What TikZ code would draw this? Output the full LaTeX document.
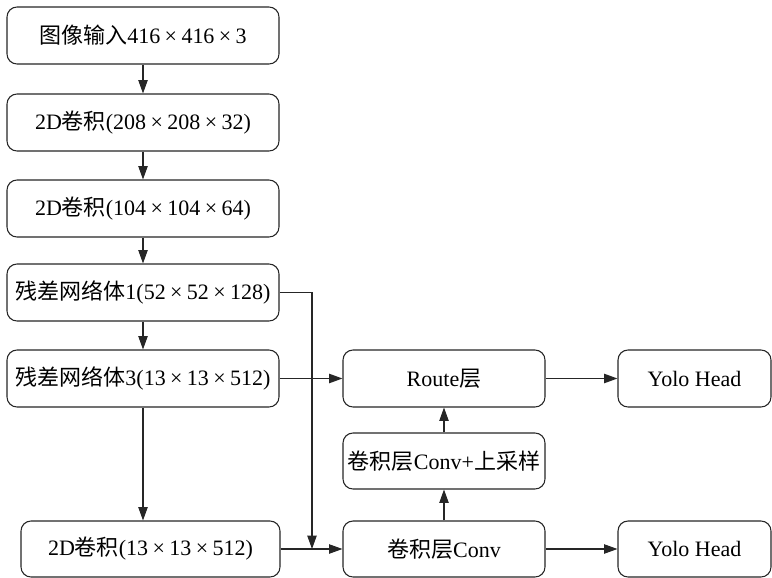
\documentclass[tikz,border=0pt]{standalone}
\usepackage{fontspec}
\setmainfont{Liberation Serif}
\newfontfamily\zhfont{Noto Sans CJK SC}
\newcommand{\zh}[1]{{\zhfont #1}}
\newcommand{\tm}{\hspace{0.2em}×\hspace{0.2em}}
\usetikzlibrary{arrows.meta}
\tikzset{
  box/.style={draw=black!85, line width=0.8pt, rounded corners=7.5pt, fill=white,
    inner sep=0pt, font=\fontsize{16.5}{20}\selectfont, anchor=center},
  arr/.style={draw=black!85, line width=0.8pt, -{Triangle[length=10pt,width=7pt]}}
}
\begin{document}
\begin{tikzpicture}[x=0.75pt,y=-0.75pt]
\useasboundingbox (0,0) rectangle (772,578);
\node[box, minimum width=204pt, minimum height=42.75pt] (b1) at (143,35.5) {\zh{图像输入}416\tm416\tm3};
\node[box, minimum width=204pt, minimum height=42.75pt] (b2) at (143,122.5) {2D\zh{卷积}(208\tm208\tm32)};
\node[box, minimum width=204pt, minimum height=42.75pt] (b3) at (143,208.5) {2D\zh{卷积}(104\tm104\tm64)};
\node[box, minimum width=204pt, minimum height=42.75pt] (b4) at (143,292.5) {\zh{残差网络体}1(52\tm52\tm128)};
\node[box, minimum width=204pt, minimum height=42.75pt] (b5) at (143,378.5) {\zh{残差网络体}3(13\tm13\tm512)};
\node[box, minimum width=194.25pt, minimum height=42pt] (b6) at (150.5,549) {2D\zh{卷积}(13\tm13\tm512)};
\node[box, minimum width=151.5pt, minimum height=42.75pt] (route) at (444,378.5) {Route\zh{层}};
\node[box, minimum width=114.75pt, minimum height=42.75pt] (y1) at (694.5,378.5) {Yolo Head};
\node[box, minimum width=151.5pt, minimum height=42pt] (ups) at (444,461) {\zh{卷积层}Conv+\zh{上采样}};
\node[box, minimum width=151.5pt, minimum height=42pt] (conv) at (444,549) {\zh{卷积层}Conv};
\node[box, minimum width=114.75pt, minimum height=42pt] (y2) at (694.5,549) {Yolo Head};
\coordinate (j) at (312,549);
\draw[arr] (b1) -- (b2);
\draw[arr] (b2) -- (b3);
\draw[arr] (b3) -- (b4);
\draw[arr] (b4) -- (b5);
\draw[arr] (b5.south) -- (b5.south |- b6.north);
\draw[arr] (b4.east) -| (j);
\draw[arr] (b5.east) -- (route.west);
\draw[arr] (b6.east) -- (conv.west);
\draw[arr] (conv) -- (ups);
\draw[arr] (ups) -- (route);
\draw[arr] (route) -- (y1);
\draw[arr] (conv) -- (y2);
\end{tikzpicture}
\end{document}
